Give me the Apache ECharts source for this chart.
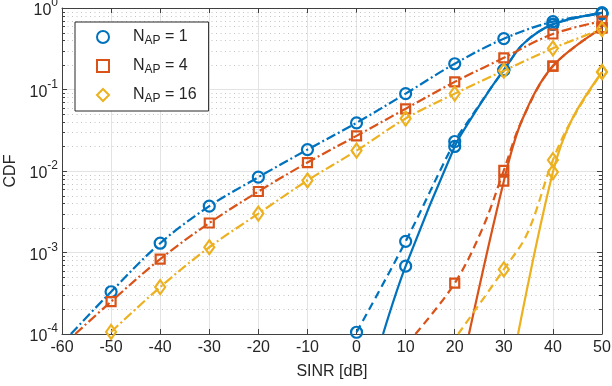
<!DOCTYPE html>
<html><head><meta charset="utf-8">
<script src="https://cdn.jsdelivr.net/npm/echarts@6/dist/echarts.min.js"></script>
<style>html,body{margin:0;padding:0;background:#fff}#c{width:612px;height:386px}</style>
</head><body><div id="c"></div>
<script>
// ---------------- data ----------------
const apCounts = ['1', '4', '16'];
const seriesNames = ['N_AP = 1', 'N_AP = 4', 'N_AP = 16'];
const xTicks = [-60, -50, -40, -30, -20, -10, 0, 10, 20, 30, 40, 50];
const yExponents = [-4, -3, -2, -1, 0];
const minorFactors = [2, 3, 4, 5, 6, 7, 8, 9];

// dash-dot curves
const ddX1 = [-58.2, -50, -40, -30, -20, -10, 0, 10, 20, 30, 40, 50];
const ddY1 = [1e-4, 3.3e-4, 1.3e-3, 3.7e-3, 8.4e-3, 1.83e-2, 3.9e-2, 8.9e-2, 0.207, 0.42, 0.68, 0.85];
const ddX4 = [-57.3, -50, -40, -30, -20, -10, 0, 10, 20, 30, 40, 50];
const ddY4 = [1e-4, 2.5e-4, 8.3e-4, 2.3e-3, 5.6e-3, 1.27e-2, 2.7e-2, 5.8e-2, 0.124, 0.245, 0.48, 0.69];
const ddX16 = [-50, -40, -30, -20, -10, 0, 10, 20, 30, 40, 50];
const ddY16 = [1.06e-4, 3.76e-4, 1.16e-3, 3.0e-3, 7.65e-3, 1.78e-2, 4.4e-2, 8.9e-2, 0.17, 0.32, 0.55];

// dashed steep curves
const daX1 = [0, 10, 20, 22.9, 27.35, 30, 34.1, 40, 50];
const daY1 = [1.05e-4, 1.37e-3, 2.3e-2, 4.2e-2, 0.104, 0.173, 0.37, 0.63, 0.87];
const daX4 = [12, 20, 25.7, 30, 33.7, 40, 50];
const daY4 = [1e-4, 4.2e-4, 2.0e-3, 1.02e-2, 4.2e-2, 0.194, 0.57];
const daX16 = [20.7, 30, 34.8, 40, 43.8, 50];
const daY16 = [1e-4, 6.2e-4, 1.72e-3, 1.36e-2, 4.2e-2, 0.164];

// solid steep curves
const soX1 = [5.4, 10, 20, 22.9, 27.35, 30, 34.1, 40, 50];
const soY1 = [1e-4, 6.8e-4, 2.0e-2, 4.0e-2, 0.104, 0.173, 0.37, 0.63, 0.87];
const soX4 = [22.9, 30, 33.7, 40, 50];
const soY4 = [1e-4, 7.5e-3, 4.2e-2, 0.194, 0.57];
const soX16 = [32.9, 40, 43.8, 50];
const soY16 = [1e-4, 9.7e-3, 4.2e-2, 0.164];

// ---------------- styling ----------------
const colors = ['#0072BD', '#D95319', '#EDB120'];
const symbols = ['circle', 'rect', 'diamond'];
const symbolSizes = [11, 9, [10, 14]];
const FONT = '"Liberation Sans", Arial, Helvetica, sans-serif';
const TXT = '#262626';
const AX = '#404040';
const FS = 16;
const xMin = -60, xMax = 50, yMin = 1e-4, yMax = 1;

const groups = [
  { dd: [ddX1, ddY1], da: [daX1, daY1], so: [soX1, soY1] },
  { dd: [ddX4, ddY4], da: [daX4, daY4], so: [soX4, soY4] },
  { dd: [ddX16, ddY16], da: [daX16, daY16], so: [soX16, soY16] }
];
const pairs = (xs, ys) => xs.map((x, i) => [x, ys[i]]);
const isMarker = (p) => Math.abs(p[0] % 10) < 1e-9 && p[1] >= yMin;

const series = [];
groups.forEach((g, k) => {
  const markers = [].concat(
    pairs(g.dd[0], g.dd[1]).filter(isMarker),
    pairs(g.da[0], g.da[1]).filter(isMarker),
    pairs(g.so[0], g.so[1]).filter(isMarker)
  );
  series.push({
    name: seriesNames[k], type: 'scatter', z: 6,
    symbol: symbols[k], symbolSize: symbolSizes[k],
    itemStyle: { color: 'rgba(255,255,255,0)', borderColor: colors[k], borderWidth: 2.2, opacity: 1 },
    emphasis: { disabled: true },
    data: markers
  });
});
groups.forEach((g, k) => {
  const base = {
    type: 'line', z: 4, symbol: 'none', smooth: 0.35,
    silent: true, clip: true, emphasis: { disabled: true }
  };
  series.push(Object.assign({}, base, {
    lineStyle: { color: colors[k], width: 2.2, type: [10, 3, 2, 3] },
    data: pairs(g.dd[0], g.dd[1])
  }));
  series.push(Object.assign({}, base, {
    lineStyle: { color: colors[k], width: 2.2, type: [8, 5] },
    data: pairs(g.da[0], g.da[1])
  }));
  series.push(Object.assign({}, base, {
    lineStyle: { color: colors[k], width: 2.2, type: 'solid' },
    data: pairs(g.so[0], g.so[1])
  }));
});

// minor log grid + minor ticks
const minorVals = [];
yExponents.slice(0, -1).forEach(e => minorFactors.forEach(f => minorVals.push(f * Math.pow(10, e))));
series.push({
  type: 'custom', coordinateSystem: 'cartesian2d', xAxisIndex: 0, yAxisIndex: 0,
  silent: true, z: 1, clip: false,
  data: minorVals.map(v => [xMin, v]),
  renderItem: (params, api) => {
    const v = api.value(1);
    const p = api.coord([xMin, v]);
    const q = api.coord([xMax, v]);
    const y = Math.round(p[1]) + 0.5;
    return {
      type: 'group', children: [
        { type: 'line', shape: { x1: p[0] + 1, y1: y, x2: q[0] - 1, y2: y },
          style: { stroke: '#c4c4c4', lineWidth: 1, lineDash: [1, 3.5] } },
        { type: 'line', shape: { x1: p[0], y1: y, x2: p[0] + 3, y2: y },
          style: { stroke: AX, lineWidth: 1 } },
        { type: 'line', shape: { x1: q[0] - 3, y1: y, x2: q[0], y2: y },
          style: { stroke: AX, lineWidth: 1 } }
      ]
    };
  }
});

const chart = echarts.init(document.getElementById('c'), null, { renderer: 'canvas' });
chart.setOption({
  animation: false,
  backgroundColor: '#fff',
  textStyle: { fontFamily: FONT },
  grid: { left: 62, right: 10, top: 8, bottom: 52, containLabel: false, outerBoundsMode: 'none' },
  legend: {
    data: seriesNames,
    orient: 'vertical', left: 75, top: 22,
    padding: [7, 12, 6, 21], itemGap: 11,
    itemWidth: 12, itemHeight: 12,
    backgroundColor: '#fff', borderColor: '#262626', borderWidth: 1,
    selectedMode: false, z: 20,
    formatter: name => '{n|N}{s|AP}{t| = ' + apCounts[seriesNames.indexOf(name)] + '}',
    textStyle: {
      color: TXT, fontFamily: FONT,
      rich: {
        n: { fontSize: FS, lineHeight: 20, padding: [0, 0, 0, 19], color: TXT, fontFamily: FONT },
        s: { fontSize: 12, lineHeight: 10, verticalAlign: 'bottom', color: TXT, fontFamily: FONT },
        t: { fontSize: FS, lineHeight: 20, color: TXT, fontFamily: FONT }
      }
    }
  },
  xAxis: [{
    type: 'value', min: xMin, max: xMax, interval: 10,
    name: 'SINR [dB]', nameLocation: 'middle', nameGap: 30,
    nameTextStyle: { fontSize: FS, color: TXT, fontFamily: FONT },
    axisLine: { show: true, onZero: false, lineStyle: { color: AX, width: 1 } },
    axisTick: { show: true, inside: true, length: 5, lineStyle: { color: AX } },
    axisLabel: { fontSize: FS, color: TXT, margin: 6, fontFamily: FONT },
    splitLine: { show: true, lineStyle: { color: '#e3e3e3', width: 1 } }
  }, {
    type: 'value', min: xMin, max: xMax, interval: 10, position: 'top',
    axisLine: { show: true, onZero: false, lineStyle: { color: AX, width: 1 } },
    axisTick: { show: true, inside: true, length: 5, lineStyle: { color: AX } },
    axisLabel: { show: false }, splitLine: { show: false }
  }],
  yAxis: [{
    type: 'log', logBase: 10, min: yMin, max: yMax, splitNumber: 4,
    name: 'CDF', nameLocation: 'middle', nameGap: 42, nameRotate: 90,
    nameTextStyle: { fontSize: FS, color: TXT, fontFamily: FONT },
    axisLine: { show: true, onZero: false, lineStyle: { color: AX, width: 1 } },
    axisTick: { show: true, inside: true, length: 5, lineStyle: { color: AX } },
    axisLabel: {
      margin: 4, color: TXT, fontFamily: FONT,
      formatter: v => '{b|10}{e|' + Math.round(Math.log10(v)) + '}',
      rich: {
        b: { fontSize: FS, lineHeight: 22, verticalAlign: 'bottom', color: TXT, fontFamily: FONT },
        e: { fontSize: 12, lineHeight: 22, verticalAlign: 'top', color: TXT, fontFamily: FONT }
      }
    },
    splitLine: { show: true, lineStyle: { color: '#e3e3e3', width: 1 } }
  }, {
    type: 'log', logBase: 10, min: yMin, max: yMax, splitNumber: 4, position: 'right',
    axisLine: { show: true, onZero: false, lineStyle: { color: AX, width: 1 } },
    axisTick: { show: true, inside: true, length: 5, lineStyle: { color: AX } },
    axisLabel: { show: false }, splitLine: { show: false }
  }],
  series: series
});
</script>
</body></html>
